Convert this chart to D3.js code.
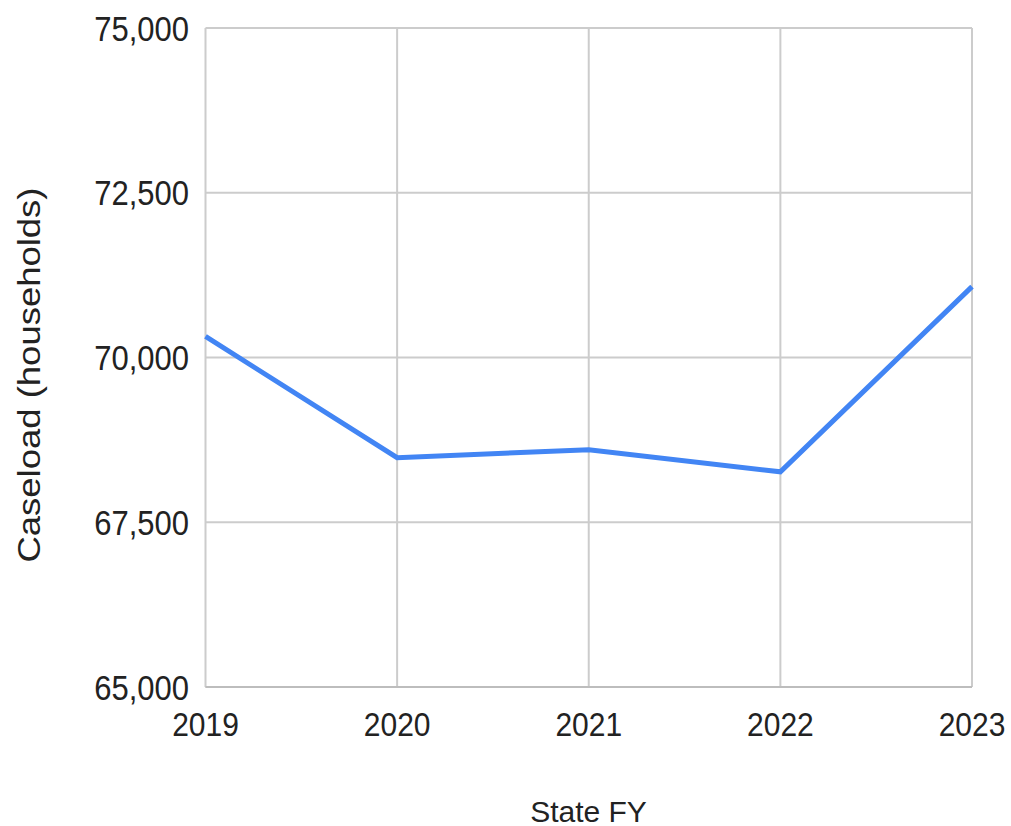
<!DOCTYPE html>
<html><head><meta charset="utf-8">
<script src="https://cdn.jsdelivr.net/npm/d3@7"></script>
<style>body{margin:0;background:#fff;} svg{display:block;} text{font-family:"Liberation Sans",Arial,sans-serif;fill:#222;}</style>
</head><body><svg id="c" width="1011" height="826"></svg>
<script>
const years = ["2019","2020","2021","2022","2023"];
const caseload = [70320, 68480, 68600, 68265, 71075];
const yTicks = [65000, 67500, 70000, 72500, 75000];
const xTitle = "State FY";
const yTitle = "Caseload (households)";

const svg = d3.select("#c");
const m = {l:205.5, r:972, t:28, b:687};
const x = d3.scalePoint().domain(years).range([m.l, m.r]);
const y = d3.scaleLinear().domain([65000, 75000]).range([m.b, m.t]);
const fmt = d3.format(",");

// gridlines
svg.append("g").selectAll("line").data(yTicks).join("line")
  .attr("x1", m.l).attr("x2", m.r).attr("y1", d=>y(d)).attr("y2", d=>y(d))
  .attr("stroke", "#cccccc").attr("stroke-width", 2);
svg.append("g").selectAll("line").data(years).join("line")
  .attr("x1", d=>x(d)).attr("x2", d=>x(d)).attr("y1", m.t).attr("y2", m.b)
  .attr("stroke", "#cccccc").attr("stroke-width", 2);
// bottom axis line
svg.append("line").attr("x1", m.l).attr("x2", m.r).attr("y1", m.b).attr("y2", m.b)
  .attr("stroke", "#bdbdbd").attr("stroke-width", 2);

// y tick labels
svg.append("g").selectAll("text").data(yTicks).join("text")
  .attr("transform", d=>`translate(189,${y(d)+12.5}) scale(1,1.13)`)
  .attr("text-anchor", "end").attr("font-size", 31)
  .text(d=>fmt(d));
// x tick labels
svg.append("g").selectAll("text").data(years).join("text")
  .attr("transform", d=>`translate(${x(d)},735.5) scale(1,1.13)`)
  .attr("text-anchor", "middle").attr("font-size", 30)
  .text(d=>d);

// line
const line = d3.line().x((d,i)=>x(years[i])).y(d=>y(d));
svg.append("path").datum(caseload).attr("d", line)
  .attr("fill", "none").attr("stroke", "#4285f4").attr("stroke-width", 5)
  .attr("stroke-linejoin", "miter");

// titles
svg.append("text").attr("x", 588.5).attr("y", 821.5)
  .attr("text-anchor", "middle").attr("font-size", 30).text(xTitle);
svg.append("text").attr("transform", `translate(40,375) rotate(-90) scale(1.14,1)`)
  .attr("text-anchor", "middle").attr("font-size", 32).text(yTitle);
</script></body></html>
